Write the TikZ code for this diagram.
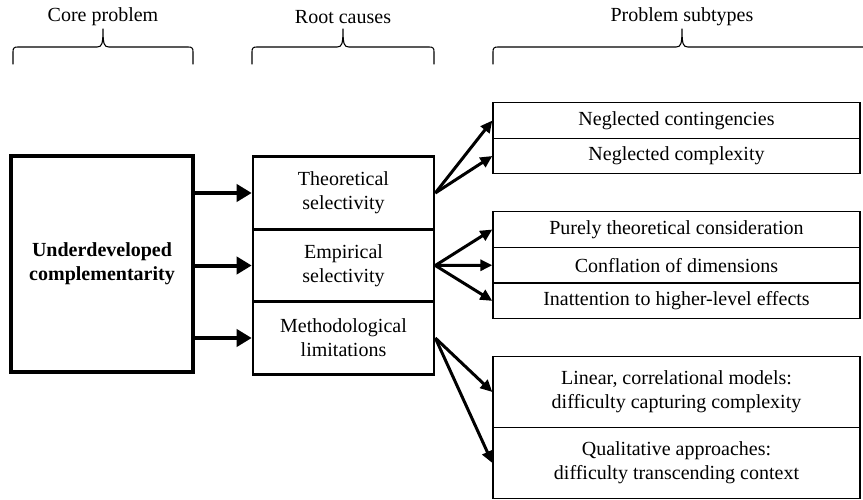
\documentclass[tikz,border=0pt]{standalone}
\usepackage{fontspec}
\setmainfont{Liberation Serif}
\usetikzlibrary{arrows.meta,positioning}
\begin{document}
\begin{tikzpicture}[x=1pt,y=-1pt,
  txt/.style={font=\fontsize{20}{24}\selectfont, align=center, inner sep=0pt},
  corebox/.style={txt, draw, line width=4pt, minimum width=182pt, minimum height=216pt},
  rootbox/.style={txt, draw, line width=2.6pt, minimum width=181pt, minimum height=72.5pt},
  subbox/.style={txt, draw, line width=1.3pt, minimum width=367pt},
  bigarrow/.style={line width=4pt, -{Triangle[length=15pt,width=17pt]}},
  arr/.style={line width=3pt, -{Triangle[length=12pt,width=11pt]}},
  bracepath/.style={line width=1.1pt, line cap=round, line join=round},
  heading/.style={font=\fontsize{20}{24}\selectfont, inner sep=0pt}
]
\useasboundingbox (0,0) rectangle (863,500);

% headings
\node[heading] (h1) at (103,17) {Core problem};
\node[heading] (h2) at (343,17) {Root causes};
\node[heading] (h3) at (682,17) {Problem subtypes};

% braces
\draw[bracepath] (13,64) -- (13,52) .. controls (13,48) and (14,47) .. (18,47) -- (97,47) .. controls (102,47) and (103,44) .. (103,29)
  .. controls (103,44) and (104,47) .. (109,47) -- (188,47) .. controls (192,47) and (193,48) .. (193,52) -- (193,64);
\draw[bracepath] (252,64) -- (252,52) .. controls (252,48) and (253,47) .. (257,47) -- (337,47) .. controls (342,47) and (343,44) .. (343,29)
  .. controls (343,44) and (344,47) .. (349,47) -- (429,47) .. controls (433,47) and (434,48) .. (434,52) -- (434,64);
\draw[bracepath] (493,64) -- (493,52) .. controls (493,48) and (494,47) .. (498,47) -- (676,47) .. controls (681,47) and (682,44) .. (682,29)
  .. controls (682,44) and (683,47) .. (688,47) -- (863,47);

% core
\node[corebox, font=\fontsize{20}{24}\selectfont\bfseries] (core) at (102,264) {Underdeveloped\\complementarity};

% root causes
\node[rootbox] (r1) at (343.5,193) {Theoretical\\selectivity};
\node[rootbox] (r2) at (343.5,265.5) {Empirical\\selectivity};
\node[rootbox] (r3) at (343.5,338) {Methodological\\limitations};

% subtypes
\node[subbox, minimum height=35.5pt] (s1) at (676.5,120.5) {Neglected contingencies};
\node[subbox, minimum height=35.5pt] (s2) at (676.5,156) {Neglected complexity};
\node[subbox, minimum height=35.7pt] (s3) at (676.5,229.5) {Purely theoretical consideration};
\node[subbox, minimum height=35.7pt] (s4) at (676.5,265.2) {Conflation of dimensions};
\node[subbox, minimum height=35.7pt] (s5) at (676.5,300.9) {Inattention to higher-level effects};
\node[subbox, minimum height=71pt] (s6) at (676.5,392) {Linear, correlational models:\\difficulty capturing complexity};
\node[subbox, minimum height=71pt] (s7) at (676.5,463) {Qualitative approaches:\\difficulty transcending context};

% arrows core -> roots
\draw[bigarrow] (core.east |- r1) -- (r1.west);
\draw[bigarrow] (core.east |- r2) -- (r2.west);
\draw[bigarrow] (core.east |- r3) -- (r3.west);

% arrows roots -> subtypes
\draw[arr] (r1.east) -- (s1.west);
\draw[arr] (r1.east) -- (s2.west);
\draw[arr] (r2.east) -- (s3.west);
\draw[arr] (r2.east) -- (s4.west);
\draw[arr] (r2.east) -- (s5.west);
\draw[arr] (r3.east) -- (s6.west);
\draw[arr] (r3.east) -- (s7.west);
\end{tikzpicture}
\end{document}
